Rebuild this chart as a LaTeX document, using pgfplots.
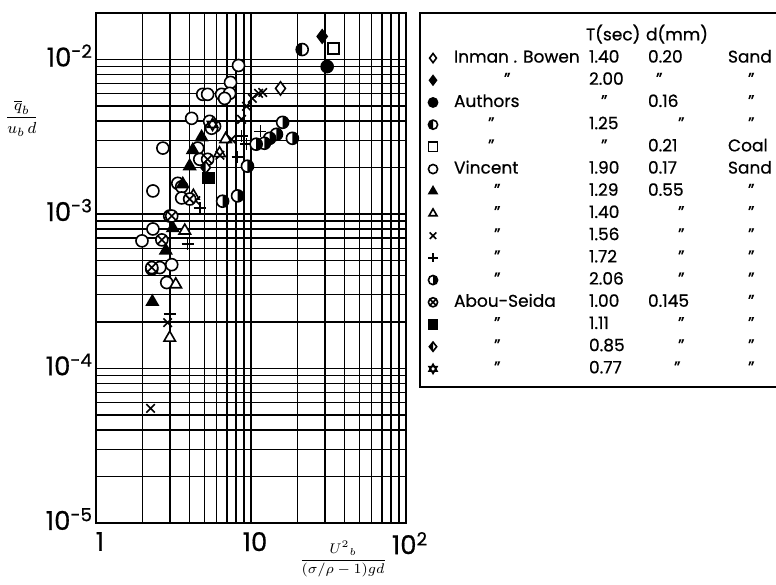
\documentclass[border=0pt]{standalone}
\usepackage{amsmath}
\usepackage{fontspec}
\setmainfont{Poppins}[FakeBold=0.6]
\usepackage{pgfplots}
\pgfplotsset{compat=1.18}
\usetikzlibrary{plotmarks}

\pgfdeclareplotmark{halfL}{%
  \pgfpathcircle{\pgfpointorigin}{\pgfplotmarksize}%
  \pgfsetfillcolor{white}\pgfusepathqfill
  \pgfpathmoveto{\pgfpoint{0pt}{\pgfplotmarksize}}%
  \pgfpatharc{90}{270}{\pgfplotmarksize}%
  \pgfpathclose
  \pgfsetfillcolor{black}\pgfusepathqfill
  \pgfpathcircle{\pgfpointorigin}{\pgfplotmarksize}%
  \pgfusepathqstroke
}
\pgfdeclareplotmark{halfR}{%
  \pgfpathcircle{\pgfpointorigin}{\pgfplotmarksize}%
  \pgfsetfillcolor{white}\pgfusepathqfill
  \pgfpathmoveto{\pgfpoint{0pt}{\pgfplotmarksize}}%
  \pgfpatharc{90}{-90}{\pgfplotmarksize}%
  \pgfpathclose
  \pgfsetfillcolor{black}\pgfusepathqfill
  \pgfpathcircle{\pgfpointorigin}{\pgfplotmarksize}%
  \pgfusepathqstroke
}
\pgfdeclareplotmark{halfdiamond}{%
  \pgfpathmoveto{\pgfpoint{0pt}{\pgfplotmarksize}}%
  \pgfpathlineto{\pgfpoint{-0.8\pgfplotmarksize}{0pt}}%
  \pgfpathlineto{\pgfpoint{0pt}{-\pgfplotmarksize}}%
  \pgfpathlineto{\pgfpoint{0.8\pgfplotmarksize}{0pt}}%
  \pgfpathclose
  \pgfsetfillcolor{white}\pgfusepathqfill
  \pgfpathmoveto{\pgfpoint{0pt}{\pgfplotmarksize}}%
  \pgfpathlineto{\pgfpoint{-0.8\pgfplotmarksize}{0pt}}%
  \pgfpathlineto{\pgfpoint{0pt}{-\pgfplotmarksize}}%
  \pgfpathclose
  \pgfsetfillcolor{black}\pgfusepathqfill
  \pgfpathmoveto{\pgfpoint{0pt}{\pgfplotmarksize}}%
  \pgfpathlineto{\pgfpoint{-0.8\pgfplotmarksize}{0pt}}%
  \pgfpathlineto{\pgfpoint{0pt}{-\pgfplotmarksize}}%
  \pgfpathlineto{\pgfpoint{0.8\pgfplotmarksize}{0pt}}%
  \pgfpathclose
  \pgfusepathqstroke
}
\pgfdeclareplotmark{david}{%
  \pgfpathmoveto{\pgfpointpolar{90}{\pgfplotmarksize}}%
  \pgfpathlineto{\pgfpointpolar{210}{\pgfplotmarksize}}%
  \pgfpathlineto{\pgfpointpolar{330}{\pgfplotmarksize}}%
  \pgfpathclose
  \pgfpathmoveto{\pgfpointpolar{270}{\pgfplotmarksize}}%
  \pgfpathlineto{\pgfpointpolar{30}{\pgfplotmarksize}}%
  \pgfpathlineto{\pgfpointpolar{150}{\pgfplotmarksize}}%
  \pgfpathclose
  \pgfsetfillcolor{white}\pgfusepathqfillstroke
}

\pgfplotsset{
  mk/.style={only marks, black, line width=0.8pt, mark size=3pt,
    legend image code/.code={\path[draw=none] (-6pt,0pt) -- (10.5pt,0pt);
      \draw[##1, mark size=2.3pt] plot coordinates {(0pt,0pt)};}},
}

\newcommand{\dt}[1]{\hspace*{#1}''}
\newcommand{\lrow}[4]{\rule[-3.3pt]{0pt}{11.1pt}\makebox[67.5pt][l]{#1}\makebox[29.5pt][l]{#2}\makebox[40pt][l]{#3}\makebox[32pt][l]{#4}}

\begin{document}
\begin{tikzpicture}
\path[use as bounding box] (-48pt,-30.5pt) rectangle (340pt,261.5pt);
\begin{axis}[
  at={(0pt,0pt)}, anchor=south west,
  scale only axis, width=155pt, height=255pt,
  xmode=log, ymode=log,
  xmin=1, xmax=100, ymin=1e-5, ymax=2e-2,
  xtick={1,10,100}, xticklabels={1,10,10\textsuperscript{2}},
  ytick={1e-5,1e-4,1e-3,1e-2},
  yticklabels={10\textsuperscript{-5},10\textsuperscript{-4},10\textsuperscript{-3},10\textsuperscript{-2}},
  minor xtick={2,3,4,5,6,7,8,9,20,30,40,50,60,70,80,90},
  minor ytick={2e-5,3e-5,4e-5,5e-5,6e-5,7e-5,8e-5,9e-5,2e-4,3e-4,4e-4,5e-4,6e-4,7e-4,8e-4,9e-4,2e-3,3e-3,4e-3,5e-3,6e-3,7e-3,8e-3,9e-3},
  grid=both,
  major grid style={black, line width=0.7pt},
  minor grid style={black, line width=0.6pt},
  axis line style={line width=1pt},
  tick style={draw=none},
  tick label style={font=\fontsize{13}{13}\selectfont},
  yticklabel style={xshift=2pt, yshift=2pt},
  xticklabel style={yshift=-1pt, xshift=2pt},
  xlabel={$\dfrac{U^{2}{}_{b}}{(\sigma/\rho-1)gd}$},
  xlabel style={at={(axis description cs:0.797,0)}, anchor=center, yshift=-18pt, font=\fontsize{7.5}{8}\selectfont},
  ylabel={$\dfrac{\overline{q}_b}{u_b\, d}$},
  ylabel style={at={(axis description cs:-0.239,0.794)}, anchor=center, rotate=-90, font=\fontsize{8}{9}\selectfont},
  legend cell align=left,
  legend style={at={(axis description cs:1.042,1.002)}, anchor=north west, draw=black, line width=1pt, fill=white,
    inner xsep=0.5pt, inner ysep=3.7pt, row sep=0pt, nodes={inner sep=0pt, text depth={}},
    font=\fontsize{8.5}{10}\selectfont},
]
\addlegendimage{empty legend}
\addlegendentry{\rule[-3.3pt]{0pt}{13.3pt}\makebox[67.5pt][l]{}\makebox[29.5pt][l]{\hspace*{-1.5pt}T(sec)}\makebox[40pt][l]{\hspace*{-1pt}d(mm)}\makebox[32pt][l]{}}

% Inman, Bowen T=1.40
\addplot[mk, mark=diamond*, mark options={fill=white}, mark size=3.3pt] coordinates {(15.5,0.0065)};
\addlegendentry{\lrow{Inman . Bowen}{1.40}{0.20}{Sand}}
% Inman, Bowen T=2.00
\addplot[mk, mark=diamond*, mark size=3.3pt] coordinates {(28.8,0.0141)};
\addlegendentry{\lrow{\dt{25pt}}{2.00}{\dt{4pt}}{\dt{10pt}}}
% Authors d=0.16
\addplot[mk, mark=*] coordinates {(31.0,0.0090)};
\addlegendentry{\lrow{Authors}{\dt{6pt}}{0.16}{\dt{10pt}}}
% Authors T=1.25
\addplot[mk, mark=halfL] coordinates {(21.4,0.0116)};
\addlegendentry{\lrow{\dt{17pt}}{1.25}{\dt{15pt}}{\dt{10pt}}}
% Authors coal
\addplot[mk, mark=square*, mark options={fill=white}, mark size=2.7pt] coordinates {(34.0,0.0118)};
\addlegendentry{\lrow{\dt{17pt}}{\dt{6pt}}{0.21}{Coal}}
% Vincent 1.90 open circles
\addplot[mk, mark=*, mark options={fill=white}] coordinates {
 (8.31,0.00915) (7.38,0.00711) (4.88,0.00595) (5.25,0.00595) (6.46,0.00595)
 (7.28,0.00604) (6.76,0.00560) (4.14,0.00416) (5.41,0.00398) (5.82,0.00370)
 (5.57,0.00359) (2.70,0.00267) (4.53,0.00267) (4.67,0.00226) (3.37,0.00158)
 (3.57,0.00150) (3.57,0.00127) (2.33,0.00141) (2.99,0.00097) (2.33,0.00080)
 (1.98,0.00067) (3.08,0.00047) (2.58,0.00045) (2.29,0.00044) (2.86,0.00036)};
\addlegendentry{\lrow{Vincent}{1.90}{0.17}{Sand}}
% Vincent 1.29 filled triangles
\addplot[mk, mark=triangle*, mark size=3.3pt] coordinates {
 (4.80,0.00314) (4.21,0.00259) (4.02,0.00204) (3.63,0.00156) (3.13,0.00081)
 (2.82,0.00058) (2.31,0.00027)};
\addlegendentry{\lrow{\dt{20pt}}{1.29}{0.55}{\dt{10pt}}}
% Vincent 1.40 open triangles
\addplot[mk, mark=triangle*, mark options={fill=white}, mark size=3.3pt] coordinates {
 (6.86,0.00305) (6.27,0.00247) (4.25,0.00131) (3.74,0.00078) (3.27,0.00035)
 (2.99,0.000158)};
\addlegendentry{\lrow{\dt{20pt}}{1.40}{\dt{15pt}}{\dt{10pt}}}
% Vincent 1.56 crosses
\addplot[mk, mark=x, mark size=3pt] coordinates {
 (11.2,0.00604) (11.9,0.00612) (10.2,0.00560) (9.35,0.00498) (8.69,0.00410)
 (7.49,0.00305) (6.3,0.00240) (4.4,0.00122) (2.90,0.000198) (2.25,0.0000552)};
\addlegendentry{\lrow{\dt{20pt}}{1.56}{\dt{15pt}}{\dt{10pt}}}
% Vincent 1.72 plus
\addplot[mk, mark=+, mark size=3pt] coordinates {
 (11.5,0.00343) (8.69,0.00319) (9.35,0.00283) (8.19,0.00233) (4.67,0.00109)
 (3.90,0.00064) (2.99,0.000226)};
\addlegendentry{\lrow{\dt{20pt}}{1.72}{\dt{15pt}}{\dt{10pt}}}
% Vincent 2.06 half circles
\addplot[mk, mark=halfR] coordinates {
 (16.0,0.00392) (14.6,0.00328) (13.2,0.00309) (12.2,0.00287) (10.8,0.00283)
 (18.5,0.00309) (9.49,0.00204) (8.19,0.00131) (6.56,0.00121)};
\addlegendentry{\lrow{\dt{20pt}}{2.06}{\dt{15pt}}{\dt{10pt}}}
% Abou-Seida 1.00 crossed circles
\addplot[mk, mark=otimes*, mark options={fill=white}] coordinates {
 (4.02,0.00125) (3.08,0.00097) (2.66,0.00068) (2.29,0.00045) (5.25,0.00226)};
\addlegendentry{\lrow{Abou-Seida}{1.00}{0.145}{\dt{10pt}}}
% Abou-Seida 1.11 filled square
\addplot[mk, mark=square*, mark size=2.7pt] coordinates {(5.33,0.00171)};
\addlegendentry{\lrow{\dt{20pt}}{1.11}{\dt{15pt}}{\dt{10pt}}}
% Abou-Seida 0.85 half diamond
\addplot[mk, mark=halfdiamond] coordinates {(5.10,0.00200)};
\addlegendentry{\lrow{\dt{20pt}}{0.85}{\dt{15pt}}{\dt{10pt}}}
% Abou-Seida 0.77 star
\addplot[mk, mark=david] coordinates {(5.65,0.00380)};
\addlegendentry{\lrow{\dt{20pt}}{0.77}{\dt{13pt}}{\dt{10pt}}}
\end{axis}
\end{tikzpicture}
\end{document}
